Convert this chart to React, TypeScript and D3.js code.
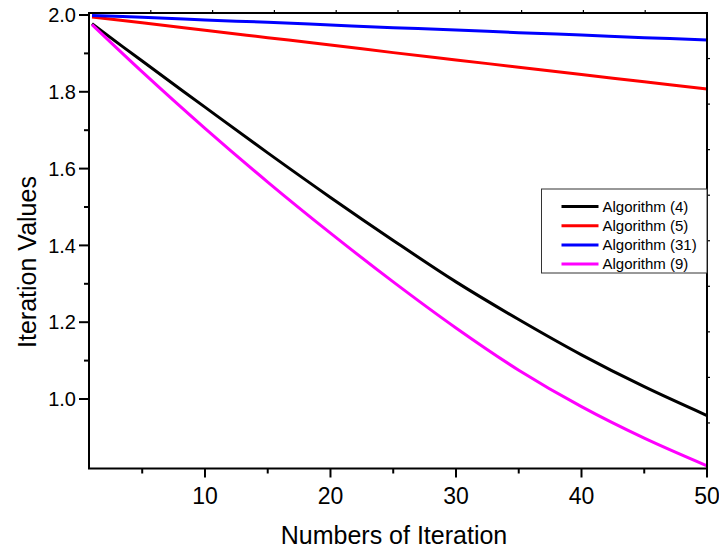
// App.tsx
import React, { useRef, useEffect } from 'react';
import * as d3 from 'd3';

// iterations sampled from the plot
const iterations = [1, 5, 10, 15, 20, 25, 30, 35, 40, 45, 50];

const algo4 = [1.977, 1.880, 1.760, 1.641, 1.525, 1.413, 1.305, 1.207, 1.115, 1.032, 0.957];
const algo5 = [1.995, 1.980, 1.960, 1.941, 1.922, 1.902, 1.883, 1.864, 1.845, 1.826, 1.807];
const algo31 = [1.999, 1.994, 1.987, 1.981, 1.974, 1.967, 1.961, 1.954, 1.948, 1.941, 1.935];
const algo9 = [1.975, 1.852, 1.705, 1.565, 1.432, 1.305, 1.185, 1.075, 0.980, 0.898, 0.826];

const seriesNames = ['Algorithm (4)', 'Algorithm (5)', 'Algorithm (31)', 'Algorithm (9)'];
const seriesColors = ['#000000', '#ff0000', '#0000ff', '#ff00ff'];

const xTicks = [10, 20, 30, 40, 50];
const yTicks = [1.0, 1.2, 1.4, 1.6, 1.8, 2.0];

const Chart = () => {
    const chartRef = useRef<SVGSVGElement>(null);

    useEffect(() => {
        d3.select(chartRef.current).selectAll('*').remove();

        const W = 719;
        const H = 547;
        const margin = { top: 13, right: 12, bottom: 78.5, left: 89 };
        const width = W - margin.left - margin.right;
        const height = H - margin.top - margin.bottom;
        const font = 'Liberation Sans, Arial, sans-serif';

        const svg = d3
            .select(chartRef.current)
            .attr('width', W)
            .attr('height', H)
            .append('g')
            .attr('transform', `translate(${margin.left},${margin.top})`);

        const xScale = d3.scaleLinear().domain([0.76, 50]).range([0, width]);
        const yScale = d3.scaleLinear().domain([0.819, 2.0052]).range([height, 0]);

        const allSeries = [algo4, algo5, algo31, algo9];

        const line = d3
            .line<[number, number]>()
            .x((d) => xScale(d[0]))
            .y((d) => yScale(d[1]))
            .curve(d3.curveCatmullRom.alpha(0.5));

        allSeries.forEach((values, i) => {
            svg.append('path')
                .datum(iterations.map((it, j) => [it, values[j]] as [number, number]))
                .attr('fill', 'none')
                .attr('stroke', seriesColors[i])
                .attr('stroke-width', 3)
                .attr('d', line);
        });

        // bottom axis: major + minor ticks outward
        const bottom = svg.append('g').attr('transform', `translate(0,${height})`);
        d3.range(5, 51, 5).forEach((t) => {
            const major = t % 10 === 0;
            bottom.append('line')
                .attr('x1', xScale(t)).attr('x2', xScale(t))
                .attr('y1', 0).attr('y2', major ? 9 : 5)
                .attr('stroke', '#000').attr('stroke-width', 2);
        });
        bottom.selectAll('text.xt')
            .data(xTicks)
            .enter()
            .append('text')
            .attr('x', (d) => xScale(d))
            .attr('y', 35)
            .attr('text-anchor', 'middle')
            .style('font-family', font)
            .style('font-size', '23px')
            .text((d) => d);

        // left axis
        const left = svg.append('g');
        d3.range(10, 21).forEach((k) => {
            const v = k / 10;
            const major = k % 2 === 0;
            left.append('line')
                .attr('x1', major ? -10 : -5).attr('x2', 0)
                .attr('y1', yScale(v)).attr('y2', yScale(v))
                .attr('stroke', '#000').attr('stroke-width', 2);
        });
        left.selectAll('text.yt')
            .data(yTicks)
            .enter()
            .append('text')
            .attr('x', -13)
            .attr('y', (d) => yScale(d))
            .attr('dy', '0.36em')
            .attr('text-anchor', 'end')
            .style('font-family', font)
            .style('font-size', '20px')
            .text((d) => d.toFixed(1));

        // top and right axes: 10 equal divisions, small outward ticks
        d3.range(1, 10).forEach((k) => {
            svg.append('line')
                .attr('x1', (width * k) / 10).attr('x2', (width * k) / 10)
                .attr('y1', 0).attr('y2', -3)
                .attr('stroke', '#000').attr('stroke-width', 1.2);
            svg.append('line')
                .attr('x1', width).attr('x2', width + 3)
                .attr('y1', (height * k) / 10).attr('y2', (height * k) / 10)
                .attr('stroke', '#000').attr('stroke-width', 1.2);
        });

        // frame
        svg.append('rect')
            .attr('x', 0).attr('y', 0)
            .attr('width', width).attr('height', height)
            .attr('fill', 'none')
            .attr('stroke', '#000')
            .attr('stroke-width', 2);

        // legend
        const legend = svg.append('g').attr('transform', `translate(${541.5 - margin.left},${189 - margin.top})`);
        legend.append('rect')
            .attr('width', width - (541.5 - margin.left))
            .attr('height', 84)
            .attr('fill', '#fff')
            .attr('stroke', '#333')
            .attr('stroke-width', 1);
        seriesNames.forEach((name, i) => {
            const y = 17.5 + i * 19.2;
            legend.append('line')
                .attr('x1', 20).attr('x2', 57)
                .attr('y1', y).attr('y2', y)
                .attr('stroke', seriesColors[i])
                .attr('stroke-width', 3);
            legend.append('text')
                .attr('x', 61)
                .attr('y', y)
                .attr('dy', '0.35em')
                .style('font-family', font)
                .style('font-size', '15px')
                .text(name);
        });

        // axis titles
        svg.append('text')
            .attr('x', width / 2 - 4)
            .attr('y', height + 75)
            .attr('text-anchor', 'middle')
            .style('font-family', font)
            .style('font-size', '25px')
            .text('Numbers of Iteration');

        svg.append('text')
            .attr('transform', `translate(${36 - margin.left},${262 - margin.top}) rotate(-90)`)
            .attr('text-anchor', 'middle')
            .style('font-family', font)
            .style('font-size', '25px')
            .text('Iteration Values');
    }, []);

    return <svg ref={chartRef} style={{ position: 'absolute', left: 0, top: 0 }}></svg>;
};

export default function App() {
    return <Chart />;
}
